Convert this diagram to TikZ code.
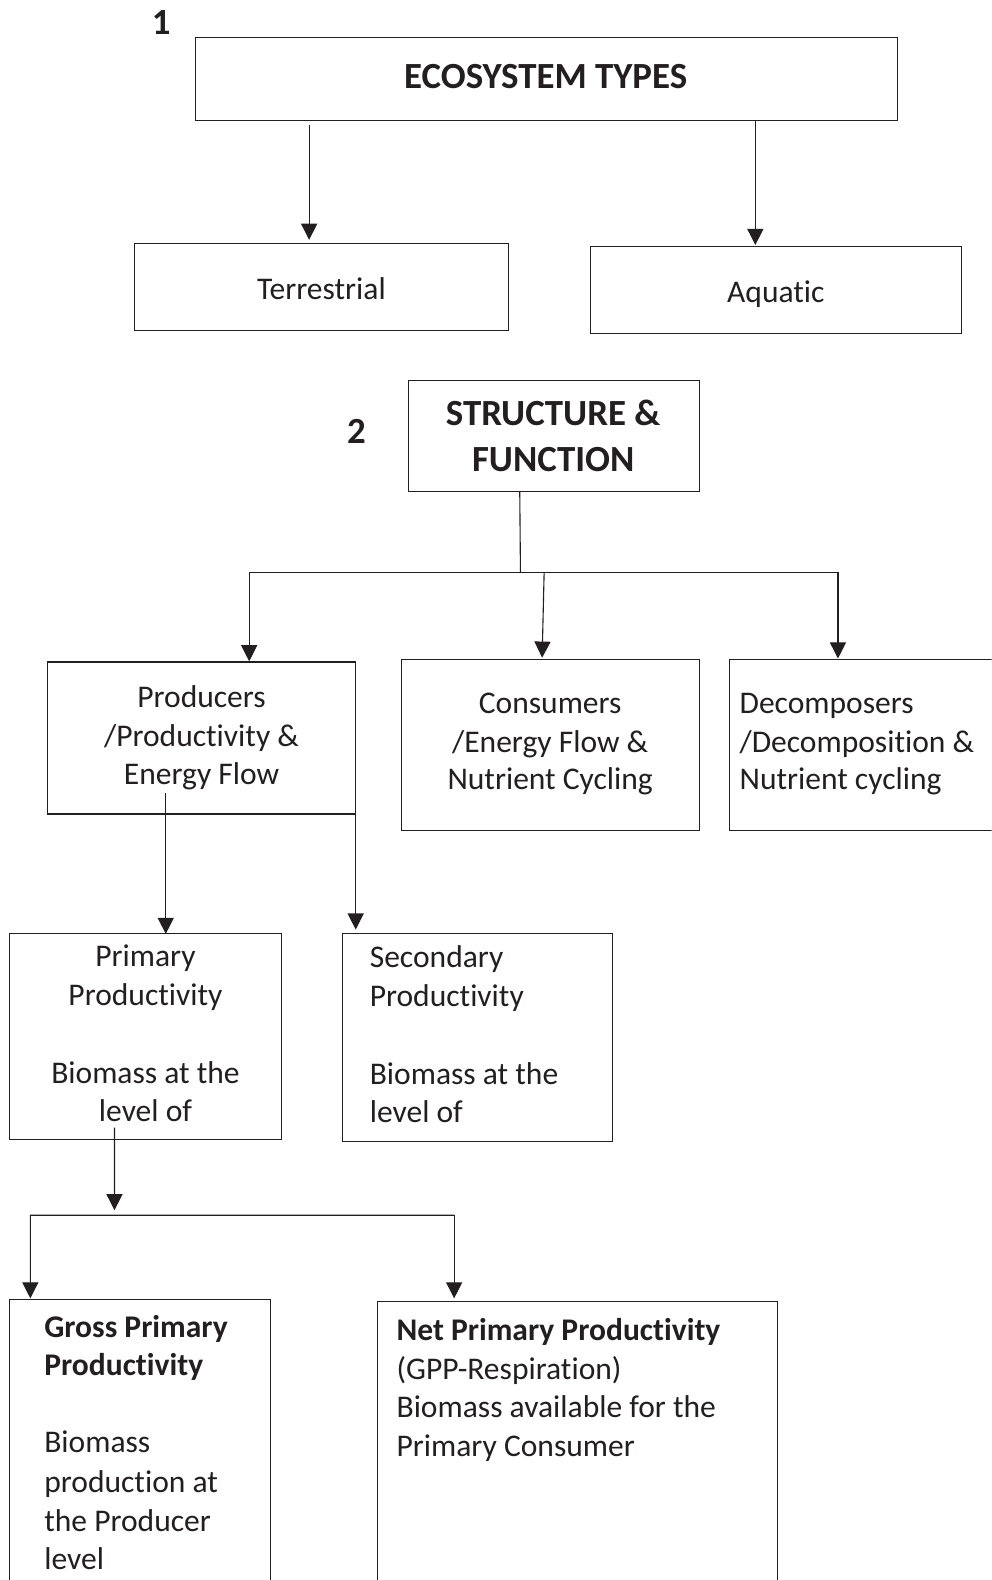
\documentclass[tikz,border=0pt]{standalone}
\usepackage{fontspec}
\setmainfont{Carlito}[Ligatures={NoCommon,NoRare,NoContextual,NoHistoric},Contextuals={NoAlternate}]
\usetikzlibrary{arrows.meta}
\definecolor{ink}{RGB}{35,31,32}
\newcommand\nsz{\fontsize{31.3}{38.7}\selectfont}
\newcommand\hsz{\fontsize{36.6}{45}\selectfont\bfseries}
\newcommand\bsz{\fontsize{31.3}{38.7}\selectfont\bfseries}
\begin{document}
\begin{tikzpicture}[x=1pt,y=1pt,
  box/.style={draw=ink, line width=1.1pt, rectangle, inner sep=0pt, outer sep=0pt, anchor=north west},
  txt/.style={inner sep=0pt, outer sep=0pt, text=ink, font=\nsz},
  btxt/.style={inner sep=0pt, outer sep=0pt, text=ink, font=\bsz},
  hd/.style={inner sep=0pt, outer sep=0pt, text=ink, font=\hsz},
  ln/.style={draw=ink, line width=1.1pt},
  arr/.style={ln, -{Triangle[length=16pt,width=16pt]}}]
\clip (0,0) rectangle (984,-1568);
\fill[white] (0,0) rectangle (984,-1568);

% boxes
\node[box, minimum width=696.4pt, minimum height=82.7pt] (eco) at (194,-37) {};
\node[box, minimum width=371pt, minimum height=86.3pt] (terr) at (133.2,-242) {};
\node[box, minimum width=368.4pt, minimum height=85.9pt] (aqua) at (585.6,-244.7) {};
\node[box, minimum width=289.3pt, minimum height=110.1pt] (sf) at (405,-377.6) {};
\node[box, minimum width=306pt, minimum height=150.8pt] (prod) at (47,-657) {};
\node[box, minimum width=295.9pt, minimum height=169.3pt] (cons) at (398.4,-654.7) {};
\node[box, minimum width=320pt, minimum height=169.6pt] (deco) at (724,-654.2) {};
\node[box, minimum width=269.9pt, minimum height=204pt] (prim) at (9.4,-926.8) {};
\node[box, minimum width=267.5pt, minimum height=206.2pt] (sec) at (340,-926.8) {};
\node[box, minimum width=259.3pt, minimum height=320pt] (gpp) at (9.4,-1289.5) {};
\node[box, minimum width=396.7pt, minimum height=320pt] (npp) at (374.8,-1291.8) {};

% texts
\begin{scope}[yshift=-1.8pt]
\node[hd, anchor=base] (n1) at (160,-32.7) {1};
\node[hd, anchor=base] (ecot) at (541.5,-86.5) {ECOSYSTEM TYPES};
\node[txt, anchor=base] (terrt) at (319,-295) {Terrestrial};
\node[txt, anchor=base] (aquat) at (770,-298) {Aquat\kern0pt ic};
\node[hd, anchor=base] (n2) at (353.8,-438) {2};
\node[hd, anchor=base] (sft1) at (549,-420.6) {STRUCTURE \&};
\node[hd, anchor=base] (sft2) at (549,-466.2) {FUNCTION};

\node[txt, anchor=base] (pt1) at (200,-700) {Producers};
\node[txt, anchor=base] (pt2) at (200,-739) {/Product\kern0pt ivity \&};
\node[txt, anchor=base] (pt3) at (200,-777) {Energy Flow};

\node[txt, anchor=base] (ct1) at (546,-706) {Consumers};
\node[txt, anchor=base] (ct2) at (546,-744.6) {/Energy Flow \&};
\node[txt, anchor=base] (ct3) at (546,-782) {Nutrient Cycling};

\node[txt, anchor=base west] (dt1) at (734,-706) {Decomposers};
\node[txt, anchor=base west] (dt2) at (734,-744.6) {/Decomposit\kern0pt ion \&};
\node[txt, anchor=base west] (dt3) at (734,-782) {Nutrient cycling};

\node[txt, anchor=base] (rt1) at (144.4,-957) {Primary};
\node[txt, anchor=base] (rt2) at (144.4,-996) {Product\kern0pt ivity};
\node[txt, anchor=base] (rt3) at (144.4,-1073) {Biomass at the};
\node[txt, anchor=base] (rt4) at (144.4,-1111) {level of};

\node[txt, anchor=base west] (st1) at (367,-958) {Secondary};
\node[txt, anchor=base west] (st2) at (367,-997) {Product\kern0pt ivity};
\node[txt, anchor=base west] (st3) at (367,-1074) {Biomass at the};
\node[txt, anchor=base west] (st4) at (367,-1112) {level of};

\node[btxt, anchor=base west] (gt1) at (44,-1325.2) {Gross Primary};
\node[btxt, anchor=base west] (gt2) at (44,-1363.3) {Product\kern0pt ivity};
\node[txt, anchor=base west] (gt3) at (44,-1440) {Biomass};
\node[txt, anchor=base west] (gt4) at (44,-1479) {product\kern0pt ion at};
\node[txt, anchor=base west] (gt5) at (44,-1517.7) {the Producer};
\node[txt, anchor=base west] (gt6) at (44,-1555.7) {level};

\node[btxt, anchor=base west] (nt1) at (393.6,-1328.5) {Net Primary Product\kern0pt ivity};
\node[txt, anchor=base west] (nt2) at (393.6,-1367) {(GPP-Respirat\kern0pt ion)};
\node[txt, anchor=base west] (nt3) at (393.6,-1405.2) {Biomass available for the};
\node[txt, anchor=base west] (nt4) at (393.6,-1443.3) {Primary Consumer};
\end{scope}

% junction coordinates
\coordinate (j0) at (516.5,-568);
\coordinate (pj) at (247.3,-568);
\coordinate (dj) at (831.6,-568);
\coordinate (cj) at (540,-568);
\coordinate (g0) at (113.6,-1201);
\coordinate (g1) at (30.1,-1206);
\coordinate (g2) at (450.7,-1206);

% connectors
\draw[arr] ([shift={(112.8,-4.3)}]eco.south west) -- ([shift={(173.6,4)}]terr.north west);
\draw[arr] ([xshift=555.6pt]eco.south west) -- ([shift={(164,1.6)}]aqua.north west);
\draw[ln] ([xshift=110.8pt]sf.south west) -- (j0);
\draw[arr] (dj) -- (pj) -- ([shift={(200.3,0.7)}]prod.north west);
\draw[arr] (pj) -- (dj) -- ([shift={(107.6,0.7)}]deco.north west);
\draw[arr] (cj) -- ([shift={(139.6,2)}]cons.north west);
\draw[arr] ([shift={(117.5,-130)}]prod.north west) -- ([xshift=155.1pt]prim.north west);
\draw[arr] (prod.south east) -- ([shift={(13,4.3)}]sec.north west);
\draw[arr] ([shift={(104.2,11.8)}]prim.south west) -- (g0);
\draw[arr] (g2) -- (g1) -- ([shift={(20.7,1)}]gpp.north west);
\draw[arr] (g1) -- (g2) -- ([shift={(75.9,3.3)}]npp.north west);
\end{tikzpicture}
\end{document}
